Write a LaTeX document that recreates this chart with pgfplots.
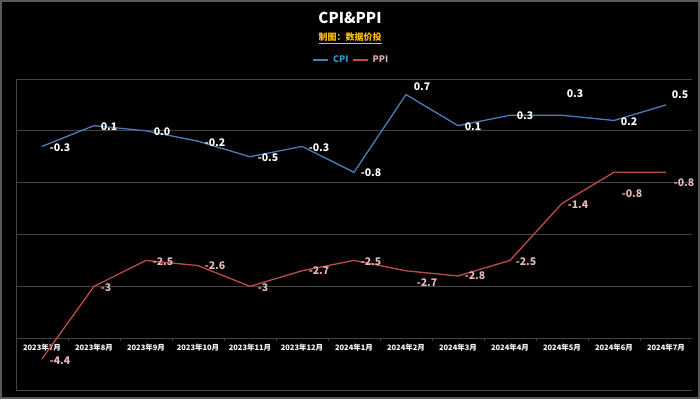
\documentclass[border=0pt]{standalone}
\usepackage{pgfplots}
\pgfplotsset{compat=1.18}
\usepackage{fontspec}
\setmainfont{Noto Sans CJK SC}
\definecolor{cpiline}{HTML}{4A7EBB}
\definecolor{ppiline}{HTML}{BE4B48}
\definecolor{ppilab}{HTML}{E6B9B8}
\definecolor{cpileg}{HTML}{2E9BD6}
\definecolor{ppileg}{HTML}{DDAAAA}
\definecolor{gridc}{HTML}{444444}
\definecolor{framec}{HTML}{5A5A5A}
\definecolor{gold}{HTML}{FFC000}
\begin{document}
\begin{tikzpicture}
\fill[black] (0pt,0pt) rectangle (700pt,399pt);
\draw[framec, line width=2pt] (1pt,1pt) rectangle (699pt,398pt);
\node[white, font=\bfseries\fontsize{15}{15}\selectfont] at (350pt,381pt) {CPI\&PPI};
\node[gold, font=\bfseries\fontsize{9}{9}\selectfont] at (350pt,361pt) {\underline{制图：数据价投}};
\begin{axis}[
  at={(16pt,9pt)}, anchor=south west,
  scale only axis, width=676pt, height=311pt,
  xmin=-0.5, xmax=12.5, ymin=-5, ymax=1,
  axis line style={draw=none},
  major tick length=0pt,
  ytick={-5,-4,...,1}, yticklabels={},
  ymajorgrids, grid style={gridc, line width=0.8pt},
  xtick={0,...,12},
  xticklabels={2023年7月,2023年8月,2023年9月,2023年10月,2023年11月,2023年12月,2024年1月,2024年2月,2024年3月,2024年4月,2024年5月,2024年6月,2024年7月},
  xticklabel style={white, font=\bfseries\fontsize{7.5}{7.5}\selectfont, anchor=center, yshift=42pt},
  legend columns=2,
  legend style={at={(0.4956,1.061)}, anchor=center, draw=none, fill=black,
    font=\bfseries\fontsize{9}{9}\selectfont, column sep=3pt, inner sep=1pt,
    nodes={inner xsep=1pt}},
  legend image code/.code={\draw[#1] (0pt,0pt) -- (15pt,0pt);},
  point meta=explicit symbolic,
  nodes near coords,
  visualization depends on={\thisrow{dx} \as \lblx},
  visualization depends on={\thisrow{dy} \as \lbly},
  every node near coord/.append style={anchor=center, xshift=\lblx pt, yshift=\lbly pt, inner sep=0pt, font=\bfseries\fontsize{10.5}{10.5}\selectfont},
]
\draw[gridc, line width=0.8pt] (axis cs:-0.5,-5) -- (axis cs:-0.5,1);
\pgfplotsinvokeforeach{0.5,1.5,...,12.5}{\draw[gridc, line width=0.8pt] (axis cs:#1,-4) -- ++(0pt,-3pt);}
\addplot[cpiline, line width=1.3pt, mark=none, every node near coord/.append style={white}] table[x=x, y=y, meta=lab] {
x y lab dx dy
0 -0.3 -0.3 18 -1.5
1 0.1 0.1 15 -1
2 0.0 0.0 16 -1
3 -0.2 -0.2 17 -1
4 -0.5 -0.5 18 -1
5 -0.3 -0.3 17 -1.5
6 -0.8 -0.8 17 0
7 0.7 0.7 16 8
8 0.1 0.1 15 -1
9 0.3 0.3 15 -0.5
10 0.3 0.3 13 22
11 0.2 0.2 15 -1.5
12 0.5 0.5 14 10
};
\addlegendentry{\textcolor{cpileg}{CPI}}
\addplot[ppiline, line width=1.3pt, mark=none, every node near coord/.append style={ppilab}] table[x=x, y=y, meta=lab] {
x y lab dx dy
0 -4.4 -4.4 18 -2
1 -3 -3 12 -1
2 -2.5 -2.5 17 -1
3 -2.6 -2.6 17 0
4 -3 -3 13 -1
5 -2.7 -2.7 17 0
6 -2.5 -2.5 17 -1
7 -2.7 -2.7 21 -12
8 -2.8 -2.8 17 0
9 -2.5 -2.5 16 -1
10 -1.4 -1.4 16 -1
11 -0.8 -0.8 18 -21
12 -0.8 -0.8 18 -10
};
\addlegendentry{\textcolor{ppileg}{PPI}}
\end{axis}
\pgfresetboundingbox
\path[use as bounding box] (0pt,0pt) rectangle (700pt,399pt);
\end{tikzpicture}
\end{document}
